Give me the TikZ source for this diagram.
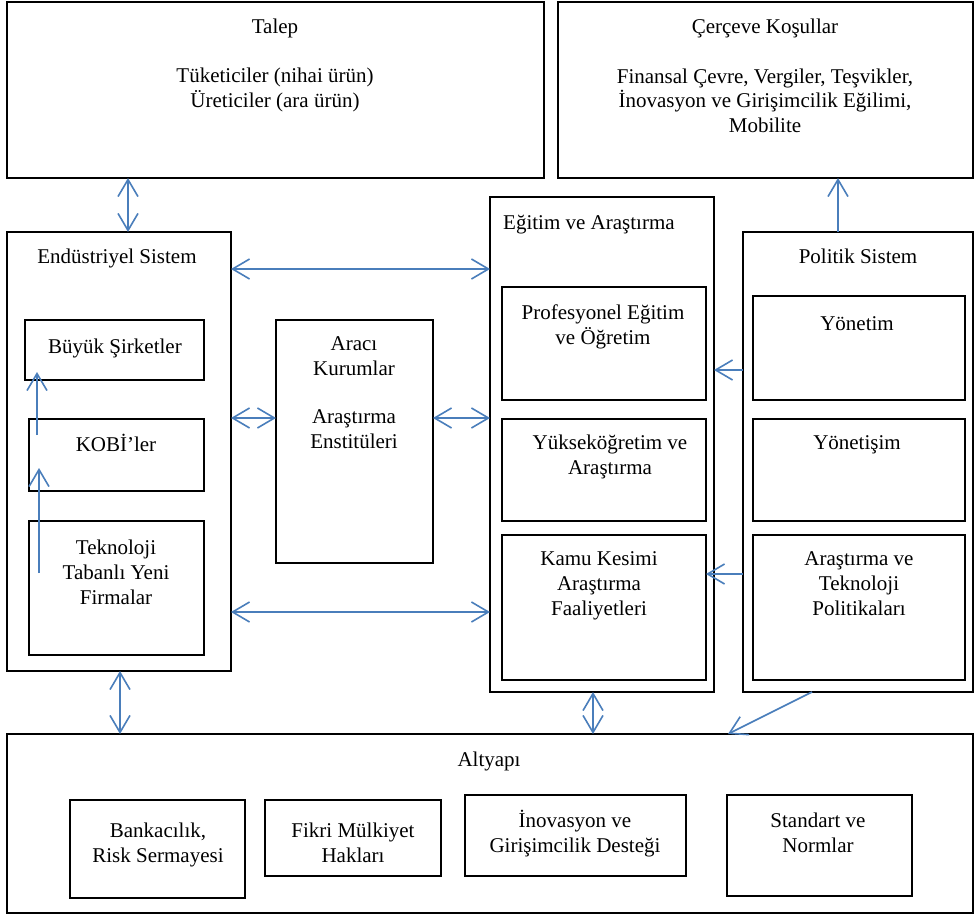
\documentclass[tikz,border=0pt]{standalone}
\usepackage{fontspec}
\setmainfont{Liberation Serif}
\usetikzlibrary{arrows.meta}
\definecolor{ablue}{RGB}{74,126,187}
\begin{document}
\begin{tikzpicture}[x=1pt,y=-1pt,
  box/.style={draw, line width=1.8pt, inner sep=0pt, outer sep=0pt, anchor=north west},
  lbl/.style={inner sep=0pt, align=center, font=\fontsize{21}{25}\selectfont, anchor=base},
  conn/.style={draw=ablue, line width=1.6pt},
  onetip/.style={-{Straight Barb[length=17pt,width=20pt]}},
  twotip/.style={{Straight Barb[length=17pt,width=20pt]}-{Straight Barb[length=17pt,width=20pt]}}]
\fill[white] (0,0) rectangle (977,915);
\useasboundingbox (0,0) rectangle (977,915);
% boxes
\node[box, minimum width=537pt, minimum height=176pt] (talep) at (7,2) {};
\node[box, minimum width=415pt, minimum height=176pt] (cerceve) at (558,2) {};
\node[box, minimum width=224pt, minimum height=439pt] (ind) at (7,232) {};
\node[box, minimum width=179pt, minimum height=60pt] (buyuk) at (25,320) {};
\node[box, minimum width=175pt, minimum height=72pt] (kobi) at (29,419) {};
\node[box, minimum width=175pt, minimum height=134pt] (tekno) at (29,521) {};
\node[box, minimum width=157pt, minimum height=243pt] (araci) at (276,320) {};
\node[box, minimum width=224pt, minimum height=495pt] (egitim) at (490,197) {};
\node[box, minimum width=204pt, minimum height=113pt] (prof) at (502,287) {};
\node[box, minimum width=204pt, minimum height=102pt] (yuk) at (502,419) {};
\node[box, minimum width=204pt, minimum height=145pt] (kamu) at (502,535) {};
\node[box, minimum width=230pt, minimum height=460pt] (pol) at (743,232) {};
\node[box, minimum width=212pt, minimum height=104pt] (yon) at (753,296) {};
\node[box, minimum width=212pt, minimum height=102pt] (yonet) at (753,419) {};
\node[box, minimum width=212pt, minimum height=145pt] (atp) at (753,535) {};
\node[box, minimum width=966pt, minimum height=179pt] (alt) at (7,734) {};
\node[box, minimum width=175pt, minimum height=98pt] (bank) at (70,800) {};
\node[box, minimum width=176pt, minimum height=76pt] (fikri) at (265,800) {};
\node[box, minimum width=221pt, minimum height=81pt] (inov) at (465,795) {};
\node[box, minimum width=185pt, minimum height=101pt] (std) at (727,795) {};
% labels (multi-line nodes are placed by the baseline of their last line)
\node[lbl] (tTalep) at (275,34) {Talep};
\node[lbl] (tTalep2) at (275,108) {Tüketiciler (nihai ürün)\\Üreticiler (ara ürün)};
\node[lbl] (tCer) at (765,34) {Çerçeve Koşullar};
\node[lbl] (tCer2) at (765,133) {Finansal Çevre, Vergiler, Teşvikler,\\İnovasyon ve Girişimcilik Eğilimi,\\Mobilite};
\node[lbl] (tInd) at (117,263) {Endüstriyel Sistem};
\node[lbl] (tBuy) at (115,353) {Büyük Şirketler};
\node[lbl] (tKobi) at (116,451) {KOBİ’ler};
\node[lbl] (tTek) at (116,604) {Teknoloji\\Tabanlı Yeni\\Firmalar};
\node[lbl] (tAra) at (354,448) {Aracı\\Kurumlar\\[23pt]Araştırma\\Enstitüleri};
\node[lbl, anchor=base west] (tEgi) at (503,229) {Eğitim ve Araştırma};
\node[lbl] (tProf) at (603,344) {Profesyonel Eğitim\\ve Öğretim};
\node[lbl] (tYuk) at (610,474) {Yükseköğretim ve\\Araştırma};
\node[lbl] (tKamu) at (599,615) {Kamu Kesimi\\Araştırma\\Faaliyetleri};
\node[lbl] (tPol) at (858,263) {Politik Sistem};
\node[lbl] (tYon) at (857,330) {Yönetim};
\node[lbl] (tYonet) at (857,449) {Yönetişim};
\node[lbl] (tAtp) at (859,615) {Araştırma ve\\Teknoloji\\Politikaları};
\node[lbl] (tAlt) at (489,766) {Altyapı};
\node[lbl] (tBank) at (158,862) {Bankacılık,\\Risk Sermayesi};
\node[lbl] (tFik) at (353,862) {Fikri Mülkiyet\\Hakları};
\node[lbl] (tIno) at (575,852) {İnovasyon ve\\Girişimcilik Desteği};
\node[lbl] (tStd) at (818,852) {Standart ve\\Normlar};
% connectors
\draw[conn, twotip] ([xshift=121pt]talep.south west) -- ([xshift=121pt]ind.north west);
\draw[conn, twotip] ([yshift=-37pt]ind.north east) -- ([yshift=-37pt]ind.north east -| egitim.west);
\draw[conn, twotip] ([yshift=-186pt]ind.north east) -- ([yshift=-186pt]ind.north east -| araci.west);
\draw[conn, twotip] ([yshift=-98pt]araci.north east) -- ([yshift=-98pt]araci.north east -| egitim.west);
\draw[conn, twotip] ([yshift=-380pt]ind.north east) -- ([yshift=-380pt]ind.north east -| egitim.west);
\draw[conn, onetip] ([xshift=10pt,yshift=-52pt]tekno.north west) -- ([xshift=10pt,yshift=-49pt]kobi.north west);
\draw[conn, onetip] ([xshift=8pt,yshift=-16pt]kobi.north west) -- ([xshift=12pt,yshift=-52pt]buyuk.north west);
\draw[conn, onetip] ([yshift=-138pt]pol.north west) -- ([yshift=-138pt]pol.north west -| egitim.east);
\draw[conn, onetip] ([yshift=-342pt]pol.north west) -- ([yshift=-342pt]pol.north west -| kamu.east);
\draw[conn, onetip] ([xshift=95pt]pol.north west) -- ([xshift=95pt]pol.north west |- cerceve.south);
\draw[conn, twotip] ([xshift=113pt]ind.south west) -- ([xshift=113pt]ind.south west |- alt.north);
\draw[conn, twotip] ([xshift=103pt]egitim.south west) -- ([xshift=103pt]egitim.south west |- alt.north);
\draw[conn, onetip] ([xshift=69pt]pol.south west) -- ([xshift=721pt]alt.north west);
\end{tikzpicture}
\end{document}
